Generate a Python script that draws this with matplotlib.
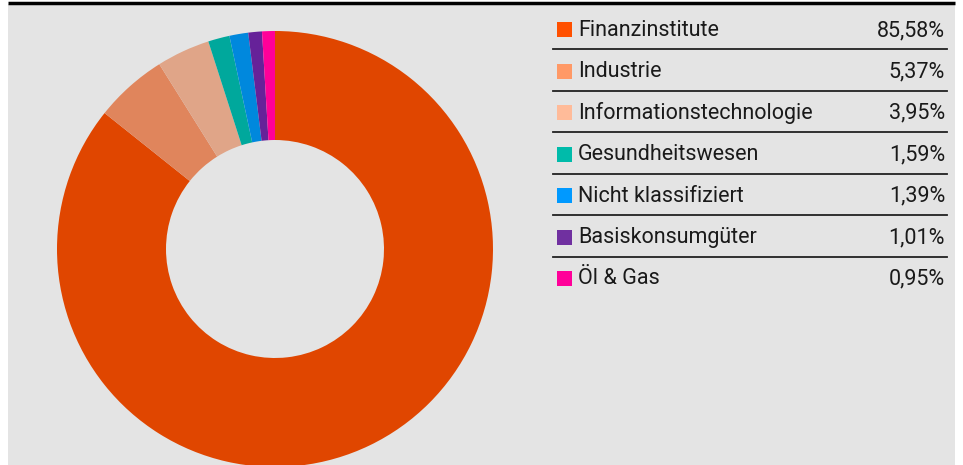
import matplotlib
matplotlib.use("Agg")
import matplotlib.pyplot as plt
from matplotlib.patches import Rectangle

categories = ["Finanzinstitute", "Industrie", "Informationstechnologie",
              "Gesundheitswesen", "Nicht klassifiziert", "Basiskonsumgüter", "Öl & Gas"]
values = [85.58, 5.37, 3.95, 1.59, 1.39, 1.01, 0.95]
value_labels = ["85,58%", "5,37%", "3,95%", "1,59%", "1,39%", "1,01%", "0,95%"]
pie_colors = ["#E04600", "#E0855C", "#E0A588", "#00A89C", "#0088DD", "#662299", "#FF0099"]
legend_colors = ["#FF5000", "#FF9966", "#FFBB99", "#00BBAA", "#0099FF", "#7030A0", "#FF0099"]

W, H = 963, 465
fig = plt.figure(figsize=(W / 100, H / 100), dpi=100, facecolor="white")

# overlay axes in pixel coords
ov = fig.add_axes([0, 0, 1, 1])
ov.set_xlim(0, W)
ov.set_ylim(H, 0)
ov.axis("off")
ov.add_patch(Rectangle((8, 4), 947, H - 4, facecolor="#E4E4E4", edgecolor="none", zorder=0))
ov.plot([8, 955], [3, 3], color="black", lw=2.5, solid_capstyle="butt", zorder=1)

# donut
cx, cy, r = 275, 249, 218
ax = fig.add_axes([(cx - r) / W, (H - cy - r) / H, 2 * r / W, 2 * r / H])
ax.pie(values, colors=pie_colors, startangle=90, counterclock=False, radius=1,
       wedgeprops=dict(width=0.5, edgecolor="none", linewidth=0))
ax.set_xlim(-1, 1)
ax.set_ylim(-1, 1)
ax.set_aspect("equal")
ax.axis("off")

# legend table
font = "Roboto"
row0, dy = 30, 41.4
for i, (c, v, col) in enumerate(zip(categories, value_labels, legend_colors)):
    y = row0 + i * dy
    ov.add_patch(Rectangle((557, y - 7.5), 15, 15, facecolor=col, edgecolor="none", zorder=3))
    ov.text(578, y + 0.5, c, fontsize=15.5, family=font, color="#1a1a1a", va="center", ha="left", zorder=3)
    ov.text(945, y + 0.5, v, fontsize=15.5, family=font, color="#1a1a1a", va="center", ha="right", zorder=3)
    if i < len(categories) - 1:
        ly = y + 19.5
        ov.plot([553, 947], [ly, ly], color="#222222", lw=1.3, zorder=2)

fig.savefig("out.png", dpi=100, facecolor="white")
